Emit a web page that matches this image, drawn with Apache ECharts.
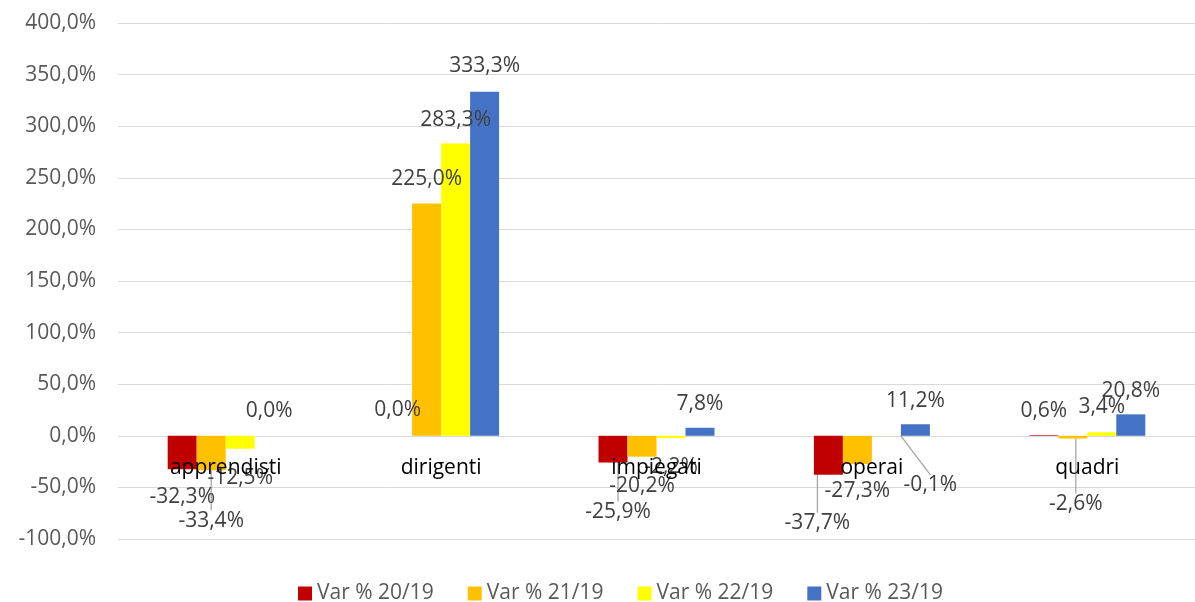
<!DOCTYPE html>
<html>
<head>
<meta charset="utf-8">
<script src="https://cdn.jsdelivr.net/npm/echarts@6/dist/echarts.min.js"></script>
<style>
  html, body { margin: 0; padding: 0; background: #ffffff; }
  #chart { width: 1195px; height: 602px; }
</style>
</head>
<body>
<div id="chart"></div>
<script>
// ---- data ----
const categories = ['apprendisti', 'dirigenti', 'impiegati', 'operai', 'quadri'];
const seriesNames = ['Var % 20/19', 'Var % 21/19', 'Var % 22/19', 'Var % 23/19'];
const var2019_20 = [-32.3, 0.0, -25.9, -37.7, 0.6];
const var2019_21 = [-33.4, 225.0, -20.2, -27.3, -2.6];
const var2019_22 = [-12.5, 283.3, -2.2, -0.1, 3.4];
const var2019_23 = [0.0, 333.3, 7.8, 11.2, 20.8];
const yTicks = { min: -100, max: 400, interval: 50 };

// ---- styling (kept separate from data) ----
const colors = ['#C00000', '#FFC000', '#FFFF00', '#4472C4'];
// label nudges [dx, dy] relative to default position, per series per category
const labelShift = [
  [[0, 12], [0, -10], [5, 34], [-11, 33], [0, -9]],
  [[0, 35], [0, -9], [0, 14], [0, 12], [3, 50]],
  [[0, 14], [0, -8], [0, 13], [44, 34], [0, -10]],
  [[0, -9], [0, -10], [0, -8], [0, -8], [0, -8]]
];
// which labels get a leader line
const leader = [
  [false, false, true, true, false],
  [true, false, false, false, true],
  [false, false, false, true, false],
  [false, false, false, false, false]
];

const FONT = '"Open Sans", "Liberation Sans", sans-serif';
const fmt = v => Number(v).toFixed(1).replace('.', ',') + '%';

const allValues = [var2019_20, var2019_21, var2019_22, var2019_23];

const series = allValues.map((vals, si) => ({
  name: seriesNames[si],
  type: 'bar',
  barWidth: 29,
  barGap: '0%',
  itemStyle: { color: colors[si] },
  data: vals.map((v, ci) => ({
    value: v,
    label: { position: v >= 0 ? 'top' : 'bottom' },
    labelLine: { show: leader[si][ci] }
  })),
  label: {
    show: true,
    distance: 5,
    formatter: p => fmt(p.value),
    color: '#404040',
    fontFamily: FONT,
    fontSize: 21
  },
  labelLine: {
    show: false,
    lineStyle: { color: '#a6a6a6', width: 1.3 }
  },
  labelLayout: params => {
    const o = labelShift[params.seriesIndex][params.dataIndex];
    return { dx: o[0], dy: o[1] };
  }
}));

// pixel distance from plot bottom (min) to the zero line, derived from the scale
const gridTop = 23, gridHeight = 516;
const zeroOffset = gridHeight * (0 - yTicks.min) / (yTicks.max - yTicks.min);

const chart = echarts.init(document.getElementById('chart'), null, { renderer: 'canvas' });
chart.setOption({
  animation: false,
  backgroundColor: '#ffffff',
  color: colors,
  grid: { left: 118, top: gridTop, width: 1084, height: gridHeight, containLabel: false },
  legend: {
    data: seriesNames,
    left: 293,
    top: 578,
    itemWidth: 14,
    itemHeight: 14,
    itemGap: 34,
    icon: 'rect',
    textStyle: { color: '#595959', fontFamily: FONT, fontSize: 21 }
  },
  xAxis: {
    type: 'category',
    data: categories,
    position: 'bottom',
    offset: -zeroOffset,
    z: 10,
    axisLine: { show: false, onZero: false },
    axisTick: { show: false },
    axisLabel: { color: '#000000', fontFamily: FONT, fontSize: 21, margin: 22 },
    splitLine: { show: false }
  },
  yAxis: {
    type: 'value',
    min: yTicks.min,
    max: yTicks.max,
    interval: yTicks.interval,
    axisLine: { show: false },
    axisTick: { show: false },
    axisLabel: { color: '#595959', fontFamily: FONT, fontSize: 21, margin: 22, formatter: v => fmt(v) },
    splitLine: { lineStyle: { color: '#d9d9d9', width: 1 } }
  },
  series: series
});
</script>
</body>
</html>
